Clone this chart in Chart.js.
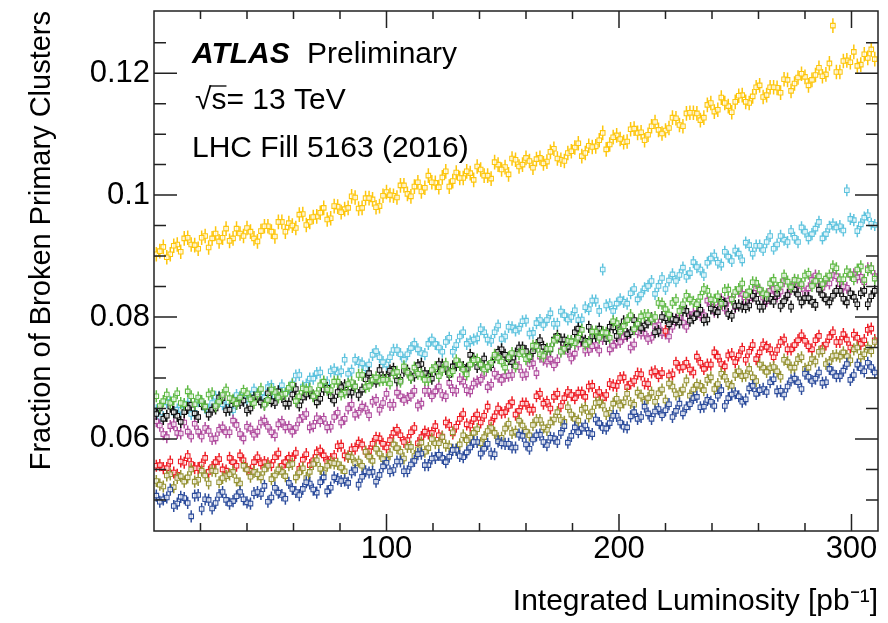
<!DOCTYPE html>
<html>
<head>
<meta charset="utf-8">
<title>Fraction of Broken Primary Clusters</title>
<script src="https://cdn.jsdelivr.net/npm/chart.js@4.4.0/dist/chart.umd.min.js"></script>
<style>
  html, body { margin: 0; padding: 0; background: #fff; }
  #wrap { width: 888px; height: 623px; }
</style>
</head>
<body>
<div id="wrap"><canvas id="grafica" width="888" height="623"></canvas></div>
<script>
/* ===============================
   DATA
   two interleaved luminosity grids
=============================== */
const lumi = [
  1,4,7,10,13,16,19,22,25,28,31,34,37,40,43,46,49,52,55,58,61,64,67,70,73,76,
  79,82,85,88,91,94,97,100,103,106,109,112,115,118,121,124,127,130,133,136,139,142,145,148,151,154,
  157,160,163,166,169,172,175,178,181,184,187,190,193,196,199,202,205,208,211,214,217,220,223,226,229,232,
  235,238,241,244,247,250,253,256,259,262,265,268,271,274,277,280,283,286,289,292,295,298,301,304,307,310
];
const lumiB = [
  2.5,5.5,8.5,11.5,14.5,17.5,20.5,23.5,26.5,29.5,32.5,35.5,38.5,41.5,44.5,47.5,50.5,53.5,56.5,59.5,
  62.5,65.5,68.5,71.5,74.5,77.5,80.5,83.5,86.5,89.5,92.5,95.5,98.5,101.5,104.5,107.5,110.5,113.5,116.5,119.5,
  122.5,125.5,128.5,131.5,134.5,137.5,140.5,143.5,146.5,149.5,152.5,155.5,158.5,161.5,164.5,167.5,170.5,173.5,176.5,179.5,
  182.5,185.5,188.5,191.5,194.5,197.5,200.5,203.5,206.5,209.5,212.5,215.5,218.5,221.5,224.5,227.5,230.5,233.5,236.5,239.5,
  242.5,245.5,248.5,251.5,254.5,257.5,260.5,263.5,266.5,269.5,272.5,275.5,278.5,281.5,284.5,287.5,290.5,293.5,296.5,299.5,
  302.5,305.5,308.5
];

const fracYellow = [
  .0903,.0915,.0903,.0919,.0929,.0919,.0912,.0933,.0929,.0924,.0945,.0929,.0937,.0946,.0929,.0941,
  .0949,.0932,.0956,.0954,.0946,.0969,.0956,.0965,.0979,.0962,.0981,.0977,.0998,.0978,.0995,.0993,
  .0982,.1005,.0999,.1016,.1002,.1014,.1006,.1032,.1020,.1029,.1014,.1037,.1028,.1036,.1047,.1032,
  .1027,.1050,.1046,.1060,.1047,.1061,.1045,.1061,.1055,.1076,.1058,.1069,.1078,.1064,.1081,.1080,
  .1102,.1083,.1098,.1087,.1108,.1102,.1090,.1113,.1107,.1106,.1127,.1115,.1134,.1135,.1123,.1148,
  .1137,.1160,.1146,.1153,.1164,.1151,.1177,.1161,.1177,.1176,.1190,.1171,.1193,.1194,.1189,.1209,
  .1198,.1278,.1202,.1221,.1235,.1214,.1225,.1223
];
const fracYellowB = [
  .0908,.0898,.0917,.0907,.0930,.0918,.0930,.0914,.0937,.0930,.0925,.0945,.0933,.0940,.0924,.0949,
  .0940,.0956,.0940,.0950,.0968,.0951,.0964,.0971,.0960,.0982,.0972,.0979,.0996,.0979,.0995,.0980,
  .0999,.1000,.0996,.1016,.0998,.1021,.1012,.1021,.1013,.1039,.1023,.1028,.1039,.1025,.1042,.1032,
  .1054,.1042,.1034,.1058,.1050,.1056,.1059,.1052,.1071,.1060,.1056,.1072,.1085,.1069,.1079,.1090,
  .1075,.1095,.1092,.1088,.1109,.1103,.1099,.1120,.1101,.1110,.1126,.1113,.1135,.1134,.1127,.1151,
  .1140,.1151,.1136,.1163,.1153,.1162,.1180,.1164,.1177,.1168,.1189,.1183,.1199,.1180,.1197,.1195,
  .1216,.1202,.1220,.1218,.1212,.1231,.1239
];

const fracCyan = [
  .0647,.0636,.0661,.0648,.0656,.0641,.0662,.0651,.0659,.0669,.0653,.0647,.0669,.0665,.0681,.0669,
  .0685,.0670,.0688,.0682,.0704,.0686,.0699,.0708,.0693,.0711,.0709,.0730,.0712,.0726,.0716,.0738,
  .0734,.0722,.0746,.0739,.0739,.0756,.0741,.0756,.0756,.0743,.0766,.0754,.0775,.0760,.0765,.0775,
  .0761,.0786,.0768,.0783,.0781,.0794,.0774,.0795,.0795,.0789,.0809,.0796,.0811,.0796,.0813,.0827,
  .0878,.0821,.0822,.0825,.0839,.0829,.0847,.0859,.0851,.0846,.0870,.0869,.0866,.0890,.0878,.0889,
  .0901,.0886,.0899,.0909,.0893,.0918,.0917,.0910,.0933,.0919,.0927,.0941,.0923,.0940,.0936,.0956,
  .0936,.0952,.0949,.1008,.0959,.0952,.0967,.0951
];
const fracCyanB = [
  .0636,.0660,.0643,.0648,.0658,.0643,.0659,.0648,.0669,.0657,.0648,.0672,.0663,.0669,.0674,.0668,
  .0687,.0678,.0675,.0691,.0705,.0689,.0699,.0709,.0693,.0714,.0711,.0707,.0730,.0724,.0722,.0744,
  .0726,.0734,.0746,.0730,.0749,.0747,.0739,.0763,.0750,.0759,.0743,.0768,.0756,.0763,.0780,.0763,
  .0775,.0764,.0784,.0778,.0793,.0773,.0790,.0787,.0806,.0789,.0803,.0800,.0795,.0816,.0827,.0810,
  .0819,.0810,.0829,.0822,.0846,.0837,.0851,.0838,.0864,.0860,.0859,.0881,.0872,.0882,.0869,.0896,
  .0889,.0907,.0892,.0904,.0922,.0904,.0917,.0923,.0912,.0933,.0923,.0930,.0947,.0929,.0945,.0929,
  .0948,.0947,.0942,.0961,.0941,.0963,.0953
];

const fracGreen = [
  .0670,.0662,.0659,.0675,.0657,.0670,.0668,.0653,.0675,.0661,.0681,.0664,.0668,.0675,.0659,.0682,
  .0664,.0677,.0673,.0684,.0662,.0683,.0682,.0675,.0694,.0680,.0694,.0676,.0693,.0705,.0685,.0697,
  .0696,.0697,.0708,.0694,.0709,.0717,.0706,.0697,.0718,.0713,.0708,.0729,.0714,.0722,.0730,.0714,
  .0725,.0733,.0717,.0741,.0739,.0731,.0753,.0739,.0748,.0761,.0743,.0761,.0757,.0779,.0759,.0776,
  .0775,.0766,.0790,.0785,.0803,.0789,.0803,.0796,.0823,.0813,.0823,.0810,.0835,.0825,.0833,.0843,
  .0828,.0822,.0845,.0841,.0855,.0842,.0856,.0839,.0855,.0848,.0868,.0849,.0860,.0868,.0851,.0867,
  .0863,.0883,.0862,.0875,.0862,.0883,.0877,.0863
];
const fracGreenB = [
  .0654,.0673,.0665,.0659,.0678,.0657,.0662,.0673,.0654,.0672,.0667,.0658,.0679,.0665,.0673,.0656,
  .0681,.0668,.0674,.0689,.0670,.0681,.0670,.0688,.0681,.0694,.0673,.0690,.0686,.0705,.0687,.0701,
  .0697,.0691,.0710,.0719,.0700,.0707,.0697,.0713,.0703,.0723,.0711,.0722,.0706,.0729,.0722,.0718,
  .0738,.0727,.0734,.0719,.0743,.0735,.0752,.0736,.0748,.0766,.0748,.0760,.0766,.0755,.0776,.0766,
  .0774,.0793,.0776,.0795,.0780,.0801,.0803,.0800,.0822,.0804,.0828,.0821,.0829,.0821,.0846,.0829,
  .0834,.0844,.0829,.0846,.0836,.0857,.0845,.0837,.0861,.0853,.0858,.0861,.0854,.0871,.0859,.0854,
  .0868,.0880,.0862,.0870,.0878,.0861,.0880
];

const fracBlack = [
  .0641,.0633,.0653,.0638,.0644,.0656,.0636,.0653,.0648,.0668,.0647,.0662,.0659,.0647,.0668,.0660,
  .0675,.0659,.0669,.0658,.0682,.0668,.0675,.0660,.0681,.0670,.0677,.0688,.0676,.0672,.0698,.0696,
  .0713,.0702,.0715,.0697,.0712,.0704,.0723,.0703,.0714,.0722,.0705,.0721,.0718,.0738,.0718,.0732,
  .0721,.0743,.0738,.0726,.0750,.0744,.0744,.0762,.0747,.0763,.0763,.0751,.0775,.0763,.0784,.0769,
  .0775,.0784,.0769,.0793,.0775,.0789,.0786,.0798,.0777,.0798,.0797,.0791,.0810,.0798,.0812,.0796,
  .0812,.0825,.0805,.0818,.0817,.0819,.0830,.0817,.0830,.0838,.0826,.0817,.0837,.0831,.0825,.0845,
  .0829,.0835,.0843,.0824,.0833,.0839,.0821,.0843
];
const fracBlackB = [
  .0650,.0638,.0644,.0628,.0651,.0642,.0657,.0640,.0650,.0667,.0648,.0658,.0663,.0650,.0669,.0657,
  .0662,.0678,.0658,.0673,.0655,.0673,.0671,.0666,.0684,.0663,.0685,.0677,.0686,.0681,.0708,.0694,
  .0701,.0712,.0696,.0712,.0701,.0721,.0708,.0699,.0723,.0715,.0719,.0722,.0715,.0732,.0722,.0718,
  .0734,.0747,.0731,.0740,.0750,.0734,.0754,.0751,.0747,.0769,.0763,.0760,.0781,.0761,.0768,.0781,
  .0764,.0783,.0780,.0772,.0795,.0782,.0791,.0775,.0800,.0788,.0795,.0811,.0794,.0805,.0795,.0814,
  .0808,.0822,.0802,.0819,.0816,.0835,.0817,.0830,.0825,.0818,.0836,.0845,.0824,.0831,.0820,.0836,
  .0824,.0843,.0830,.0839,.0821,.0843,.0834
];

const fracMagenta = [
  .0629,.0608,.0621,.0610,.0627,.0604,.0612,.0618,.0600,.0615,.0611,.0630,.0608,.0620,.0607,.0627,
  .0620,.0606,.0628,.0620,.0618,.0636,.0619,.0634,.0633,.0620,.0643,.0633,.0656,.0643,.0650,.0661,
  .0648,.0674,.0656,.0670,.0667,.0679,.0658,.0679,.0678,.0672,.0692,.0679,.0694,.0678,.0694,.0707,
  .0689,.0702,.0703,.0705,.0718,.0706,.0724,.0735,.0727,.0721,.0745,.0743,.0740,.0761,.0746,.0754,
  .0764,.0747,.0758,.0767,.0750,.0775,.0773,.0766,.0787,.0773,.0784,.0799,.0784,.0805,.0803,.0827,
  .0809,.0829,.0827,.0816,.0838,.0831,.0847,.0832,.0843,.0834,.0859,.0846,.0854,.0839,.0861,.0851,
  .0859,.0869,.0854,.0848,.0870,.0866,.0880,.0867
];
const fracMagentaB = [
  .0622,.0603,.0624,.0609,.0612,.0625,.0604,.0613,.0601,.0619,.0611,.0623,.0601,.0617,.0612,.0630,
  .0611,.0624,.0619,.0612,.0631,.0641,.0621,.0629,.0619,.0636,.0627,.0650,.0640,.0653,.0639,.0664,
  .0659,.0656,.0676,.0664,.0671,.0655,.0679,.0670,.0686,.0670,.0680,.0698,.0680,.0691,.0697,.0685,
  .0707,.0697,.0704,.0722,.0705,.0723,.0708,.0730,.0731,.0729,.0750,.0732,.0755,.0745,.0752,.0745,
  .0770,.0753,.0759,.0769,.0755,.0773,.0764,.0785,.0774,.0768,.0796,.0791,.0800,.0807,.0803,.0824,
  .0816,.0814,.0830,.0842,.0825,.0834,.0843,.0826,.0846,.0842,.0837,.0858,.0851,.0847,.0868,.0848,
  .0855,.0867,.0850,.0869,.0865,.0857,.0880
];

const fracRed = [
  .0556,.0552,.0563,.0541,.0561,.0559,.0552,.0569,.0554,.0567,.0548,.0562,.0573,.0551,.0562,.0560,
  .0560,.0570,.0556,.0569,.0577,.0566,.0557,.0578,.0573,.0567,.0588,.0573,.0583,.0594,.0579,.0592,
  .0601,.0586,.0610,.0606,.0598,.0618,.0603,.0609,.0621,.0604,.0623,.0620,.0641,.0622,.0640,.0638,
  .0627,.0650,.0644,.0660,.0646,.0658,.0648,.0674,.0661,.0669,.0654,.0677,.0667,.0676,.0686,.0672,
  .0667,.0690,.0687,.0701,.0691,.0707,.0691,.0709,.0703,.0777,.0706,.0717,.0725,.0709,.0725,.0722,
  .0742,.0723,.0737,.0726,.0748,.0743,.0731,.0755,.0747,.0746,.0763,.0747,.0762,.0761,.0747,.0769,
  .0755,.0775,.0759,.0763,.0771,.0756,.0779,.0762
];
const fracRedB = [
  .0557,.0552,.0545,.0563,.0572,.0552,.0558,.0546,.0562,.0550,.0569,.0556,.0565,.0548,.0570,.0562,
  .0557,.0576,.0562,.0568,.0551,.0575,.0565,.0581,.0563,.0572,.0589,.0571,.0584,.0591,.0580,.0602,
  .0592,.0598,.0615,.0595,.0611,.0593,.0612,.0610,.0606,.0627,.0609,.0633,.0624,.0633,.0627,.0653,
  .0637,.0643,.0654,.0640,.0658,.0648,.0670,.0658,.0650,.0674,.0667,.0672,.0676,.0669,.0687,.0677,
  .0672,.0688,.0700,.0685,.0695,.0706,.0690,.0711,.0708,.0704,.0725,.0718,.0714,.0735,.0715,.0722,
  .0735,.0719,.0739,.0737,.0730,.0754,.0742,.0751,.0734,.0759,.0747,.0754,.0770,.0752,.0762,.0749,
  .0767,.0759,.0772,.0750,.0766,.0762,.0781
];

const fracOlive = [
  .0531,.0522,.0542,.0536,.0530,.0550,.0533,.0540,.0548,.0529,.0539,.0546,.0527,.0550,.0546,.0537,
  .0556,.0540,.0546,.0557,.0537,.0552,.0546,.0565,.0545,.0561,.0559,.0547,.0570,.0563,.0579,.0564,
  .0576,.0566,.0591,.0579,.0587,.0572,.0594,.0585,.0593,.0603,.0588,.0583,.0606,.0602,.0616,.0603,
  .0618,.0601,.0617,.0610,.0630,.0612,.0623,.0631,.0615,.0632,.0631,.0652,.0633,.0648,.0637,.0659,
  .0655,.0643,.0666,.0660,.0659,.0676,.0661,.0676,.0675,.0663,.0686,.0675,.0696,.0681,.0687,.0697,
  .0682,.0707,.0690,.0705,.0703,.0715,.0695,.0717,.0716,.0711,.0730,.0717,.0731,.0715,.0731,.0743,
  .0723,.0736,.0735,.0736,.0747,.0735,.0750,.0759
];
const fracOliveB = [
  .0525,.0540,.0521,.0539,.0537,.0530,.0548,.0527,.0547,.0536,.0542,.0532,.0556,.0538,.0542,.0550,
  .0534,.0550,.0539,.0559,.0545,.0536,.0559,.0551,.0556,.0560,.0553,.0571,.0560,.0556,.0571,.0584,
  .0567,.0575,.0585,.0568,.0587,.0583,.0579,.0600,.0593,.0589,.0611,.0591,.0598,.0610,.0593,.0613,
  .0610,.0602,.0625,.0612,.0622,.0606,.0631,.0619,.0627,.0644,.0628,.0640,.0630,.0651,.0645,.0660,
  .0641,.0658,.0655,.0674,.0656,.0671,.0667,.0661,.0681,.0691,.0673,.0681,.0671,.0689,.0680,.0701,
  .0690,.0702,.0687,.0711,.0704,.0701,.0722,.0710,.0718,.0702,.0726,.0717,.0734,.0717,.0727,.0744,
  .0726,.0737,.0742,.0729,.0750,.0739,.0744
];

const fracBlue = [
  .0507,.0501,.0517,.0494,.0503,.0473,.0508,.0501,.0486,.0508,.0500,.0498,.0513,.0496,.0511,.0510,
  .0497,.0520,.0508,.0528,.0513,.0518,.0527,.0512,.0537,.0520,.0534,.0532,.0545,.0525,.0547,.0546,
  .0541,.0561,.0549,.0563,.0547,.0564,.0576,.0557,.0569,.0569,.0571,.0582,.0570,.0586,.0595,.0584,
  .0576,.0596,.0592,.0586,.0607,.0591,.0599,.0607,.0590,.0601,.0610,.0594,.0619,.0617,.0610,.0632,
  .0618,.0626,.0638,.0620,.0637,.0633,.0653,.0633,.0649,.0647,.0636,.0658,.0652,.0667,.0652,.0664,
  .0654,.0680,.0667,.0675,.0661,.0683,.0674,.0682,.0693,.0678,.0673,.0696,.0693,.0707,.0695,.0709,
  .0693,.0709,.0703,.0723,.0705,.0716,.0725,.0709
];
const fracBlueB = [
  .0497,.0504,.0490,.0505,.0495,.0507,.0485,.0500,.0495,.0513,.0494,.0506,.0501,.0494,.0513,.0523,
  .0504,.0512,.0502,.0518,.0508,.0529,.0517,.0529,.0514,.0537,.0531,.0528,.0549,.0538,.0545,.0530,
  .0555,.0547,.0563,.0547,.0558,.0575,.0557,.0568,.0574,.0562,.0582,.0572,.0578,.0595,.0576,.0592,
  .0575,.0593,.0592,.0586,.0605,.0584,.0606,.0595,.0602,.0595,.0621,.0605,.0611,.0622,.0608,.0626,
  .0617,.0638,.0627,.0619,.0644,.0636,.0642,.0645,.0639,.0657,.0646,.0642,.0657,.0669,.0653,.0661,
  .0671,.0654,.0673,.0670,.0665,.0687,.0680,.0677,.0698,.0679,.0686,.0699,.0682,.0702,.0699,.0692,
  .0715,.0703,.0712,.0697,.0722,.0711,.0718
];

// statistical error per point (half length of the bar)
const errYellow = 0.0012;
const errOther = 0.001;

// axis ticks
const xLabelTicks = [100, 200, 300];
const xMinorTicks = [20, 40, 60, 80, 120, 140, 160, 180, 220, 240, 260, 280];
const yLabelTicks = [0.06, 0.08, 0.1, 0.12];
const yMinorTicks = [0.05, 0.055, 0.065, 0.07, 0.075, 0.085, 0.09, 0.095, 0.105, 0.11, 0.115, 0.125];

/* ===============================
   SERIES (first = drawn on top)
=============================== */
const series = [
  { a: fracBlue,    b: fracBlueB,    color: "#2c4c9c", err: errOther },
  { a: fracOlive,   b: fracOliveB,   color: "#959233", err: errOther },
  { a: fracRed,     b: fracRedB,     color: "#ee1c24", err: errOther },
  { a: fracGreen,   b: fracGreenB,   color: "#5fb944", err: errOther },
  { a: fracBlack,   b: fracBlackB,   color: "#111111", err: errOther },
  { a: fracMagenta, b: fracMagentaB, color: "#b04c9e", err: errOther },
  { a: fracCyan,    b: fracCyanB,    color: "#5ec3de", err: errOther },
  { a: fracYellow,  b: fracYellowB,  color: "#fdc60c", err: errYellow },
];

const FONT = '"Liberation Sans", Arial, Helvetica, sans-serif';
Chart.defaults.font.family = FONT;
Chart.defaults.color = "#000";

/* ===============================
   PLUGINS
=============================== */
const errorBars = {
  id: "errorBars",
  beforeDatasetDraw(chart, args) {
    const ds = chart.data.datasets[args.index];
    const y = chart.scales.y;
    const a = chart.chartArea;
    const ctx = chart.ctx;
    ctx.save();
    ctx.beginPath();
    ctx.rect(a.left, a.top, a.right - a.left, a.bottom - a.top);
    ctx.clip();
    ctx.strokeStyle = ds.borderColor;
    ctx.lineWidth = 1.5;
    ctx.beginPath();
    args.meta.data.forEach((pt, i) => {
      const v = ds.data[i].y;
      ctx.moveTo(pt.x, y.getPixelForValue(v + ds.err));
      ctx.lineTo(pt.x, y.getPixelForValue(v - ds.err));
    });
    ctx.stroke();
    ctx.restore();
  }
};

const rootFrame = {
  id: "rootFrame",
  afterDraw(chart) {
    const { ctx, chartArea: a, scales: { x, y } } = chart;
    ctx.save();
    ctx.strokeStyle = "#222";
    ctx.lineWidth = 1.5;
    ctx.strokeRect(a.left, a.top, a.right - a.left, a.bottom - a.top);

    ctx.beginPath();
    const xt = (v, len) => {
      const px = x.getPixelForValue(v);
      ctx.moveTo(px, a.bottom); ctx.lineTo(px, a.bottom - len);
      ctx.moveTo(px, a.top); ctx.lineTo(px, a.top + len);
    };
    const yt = (v, len) => {
      const py = y.getPixelForValue(v);
      ctx.moveTo(a.left, py); ctx.lineTo(a.left + len, py);
      ctx.moveTo(a.right, py); ctx.lineTo(a.right - len, py);
    };
    xLabelTicks.forEach(v => xt(v, 17));
    xMinorTicks.forEach(v => xt(v, 8));
    yLabelTicks.forEach(v => yt(v, 23));
    yMinorTicks.forEach(v => yt(v, 12));
    ctx.stroke();

    // ATLAS label
    ctx.fillStyle = "#000";
    ctx.textBaseline = "alphabetic";
    ctx.textAlign = "left";
    const tx = a.left + 38;
    ctx.font = "italic bold 30px " + FONT;
    ctx.fillText("ATLAS", tx, a.top + 52);
    ctx.font = "30px " + FONT;
    ctx.fillText("Preliminary", tx + 115, a.top + 52);

    const root = "√";
    ctx.fillText(root + "s= 13 TeV", tx + 3, a.top + 98);
    const rw = ctx.measureText(root).width;
    const sw = ctx.measureText("s").width;
    ctx.lineWidth = 1.3;
    ctx.strokeStyle = "#000";
    ctx.beginPath();
    ctx.moveTo(tx + 3 + rw - 2, a.top + 75);
    ctx.lineTo(tx + 3 + rw + sw, a.top + 75);
    ctx.stroke();

    ctx.fillText("LHC Fill 5163 (2016)", tx, a.top + 146);
    ctx.restore();
  }
};

/* ===============================
   CHART
=============================== */
const datasets = series.map(s => ({
  data: lumi.map((l, i) => ({ x: l, y: s.a[i] }))
    .concat(lumiB.map((l, i) => ({ x: l, y: s.b[i] }))),
  err: s.err,
  showLine: false,
  pointStyle: "rect",
  pointRadius: 3.2,
  pointBorderWidth: 1.1,
  borderColor: s.color,
  backgroundColor: "rgba(255,255,255,0.7)",
}));

new Chart(document.getElementById("grafica"), {
  type: "scatter",
  data: { datasets },
  plugins: [errorBars, rootFrame],
  options: {
    responsive: false,
    devicePixelRatio: 1,
    animation: false,
    events: [],
    layout: { padding: { top: 11, right: 10, left: 0, bottom: 0 } },
    plugins: { legend: { display: false }, tooltip: { enabled: false } },
    scales: {
      x: {
        type: "linear",
        min: 0,
        max: 311.4,
        afterFit: s => { s.height = 92; s.paddingLeft = 0; s.paddingRight = 0; },
        afterBuildTicks: s => { s.ticks = xLabelTicks.map(v => ({ value: v })); },
        grid: { display: false, drawTicks: false },
        border: { display: false },
        ticks: { font: { size: 31 }, color: "#000", padding: 0, maxRotation: 0 },
        title: {
          display: true,
          text: "Integrated Luminosity [pb⁻¹]",
          align: "end",
          font: { size: 30 },
          color: "#000",
          padding: { top: 0, bottom: 3 },
        },
      },
      y: {
        type: "linear",
        min: 0.0449,
        max: 0.1302,
        afterFit: s => { s.width = 154; s.paddingTop = 0; s.paddingBottom = 0; },
        afterBuildTicks: s => { s.ticks = yLabelTicks.map(v => ({ value: v })); },
        grid: { display: false, drawTicks: false },
        border: { display: false },
        ticks: { font: { size: 31 }, color: "#000", padding: 4, callback: v => String(v) },
        title: {
          display: true,
          text: "Fraction of Broken Primary Clusters",
          align: "end",
          font: { size: 29 },
          color: "#000",
          padding: { top: 25, bottom: 0 },
        },
      },
    },
  },
});
</script>
</body>
</html>
